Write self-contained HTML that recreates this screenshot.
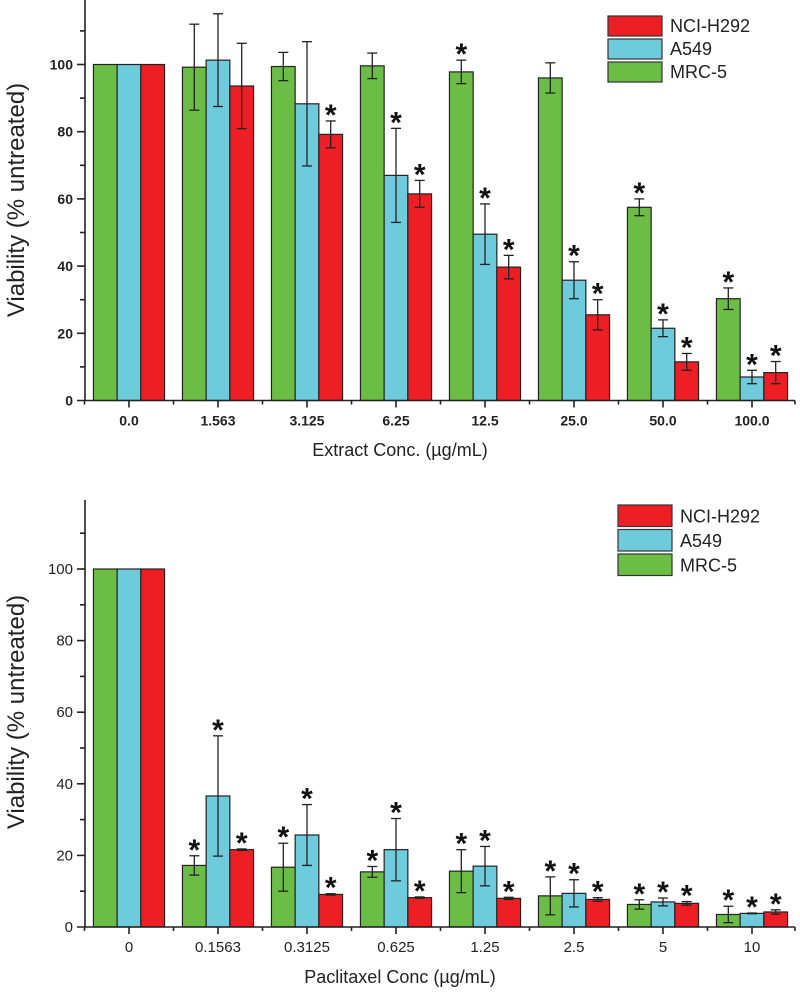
<!DOCTYPE html>
<html><head><meta charset="utf-8"><style>
html,body{margin:0;padding:0;background:#fff;}
svg{display:block;font-family:"Liberation Sans",Arial,sans-serif;}
</style></head><body>
<svg id="chart" width="800" height="992" viewBox="0 0 800 992" xmlns="http://www.w3.org/2000/svg"></svg>
<script>
const seriesNames = ["MRC-5","A549","NCI-H292"];
const seriesColors = ["#6cbd45","#6ecbdc","#ed1f24"];
// Top chart
const topCategories = ["0.0","1.563","3.125","6.25","12.5","25.0","50.0","100.0"];
const topMRC5 = [100,99.2,99.4,99.6,97.8,96,57.5,30.3];
const topA549 = [100,101.3,88.3,67,49.5,35.8,21.5,7];
const topH292 = [100,93.6,79.2,61.5,39.7,25.5,11.5,8.3];
const topErrMRC5 = [0,12.8,4.2,3.8,3.5,4.5,2.5,3.2];
const topErrA549 = [0,13.8,18.5,14,9,5.5,2.5,2];
const topErrH292 = [0,12.7,4,4,3.5,4.5,2.5,3.3];
const topStarMRC5 = [0,0,0,0,1,0,1,1];
const topStarA549 = [0,0,0,1,1,1,1,1];
const topStarH292 = [0,0,1,1,1,1,1,1];
const topTicks = [0,20,40,60,80,100];
// Bottom chart
const botCategories = ["0","0.1563","0.3125","0.625","1.25","2.5","5","10"];
const botMRC5 = [100,17.2,16.7,15.4,15.6,8.7,6.3,3.5];
const botA549 = [100,36.6,25.7,21.6,17,9.4,7,3.8];
const botH292 = [100,21.6,9.1,8.2,8,7.7,6.6,4.2];
const botErrMRC5 = [0,2.7,6.7,1.5,6,5.3,1.3,2.3];
const botErrA549 = [0,16.8,8.5,8.7,5.5,3.8,1.1,0.1];
const botErrH292 = [0,0.2,0.2,0.2,0.3,0.5,0.5,0.6];
const botStarMRC5 = [0,1,1,1,1,1,1,1];
const botStarA549 = [0,1,1,1,1,1,1,1];
const botStarH292 = [0,1,1,1,1,1,1,1];
const botTicks = [0,20,40,60,80,100];

const svg = document.getElementById('chart');
const NS = "http://www.w3.org/2000/svg";
function mk(tag, attrs, parent){
  const e = document.createElementNS(NS, tag);
  for (const k in attrs) e.setAttribute(k, attrs[k]);
  (parent||svg).appendChild(e);
  return e;
}

function drawChart(cfg){
  const g = mk('g', {});
  
  
  const x0 = 85, xEnd = 795, step = 89, c0 = 129, bw = 23.7;
  const y = v => cfg.y0 - v * cfg.k;
  const cx = i => c0 + i * step;
  const vals = [cfg.m, cfg.a, cfg.h], errs = [cfg.em, cfg.ea, cfg.eh], stars = [cfg.sm, cfg.sa, cfg.sh];
  cfg.cats.forEach((c, i) => {
    for (let s = 0; s < 3; s++) {
      const bx = cx(i) - 1.5 * bw + s * bw;
      const v = vals[s][i];
      const r = mk('rect', {x: bx, y: y(v), width: bw, height: v * cfg.k, fill: seriesColors[s], stroke: '#222', 'stroke-width': 1.2}, g);
      
      
      const e = errs[s][i];
      const mx = bx + bw / 2;
      if (e > 0) {
        const eg = mk('g', {stroke: '#222', 'stroke-width': 1.3}, g);
        
        
        mk('line', {x1: mx, x2: mx, y1: y(v + e), y2: y(v - e)}, eg);
        mk('line', {x1: mx - 5, x2: mx + 5, y1: y(v + e), y2: y(v + e)}, eg);
        mk('line', {x1: mx - 5, x2: mx + 5, y1: y(v - e), y2: y(v - e)}, eg);
      }
      if (stars[s][i]) {
        const st = mk('text', {x: mx, y: y(v + e) + 4, 'font-size': 30, 'font-weight': 'bold', 'text-anchor': 'middle', fill: '#111'}, g);
        st.textContent = '*';
        
        
      }
    }
  });
  const ax = mk('g', {stroke: '#222', 'stroke-width': 1.6}, g);
  
  
  mk('line', {x1: x0, x2: x0, y1: cfg.yTop, y2: y(0)}, ax);
  mk('line', {x1: x0 - 8, x2: xEnd, y1: y(0), y2: y(0)}, ax);
  for (let v = 10; v <= 110; v += 10) {
    const major = v % 20 === 0;
    mk('line', {x1: x0 - (major ? 8 : 5), x2: x0, y1: y(v), y2: y(v)}, ax);
  }
  cfg.cats.forEach((c, i) => {
    mk('line', {x1: cx(i), x2: cx(i), y1: y(0), y2: y(0) + 7}, ax);
    mk('line', {x1: cx(i) - step / 2, x2: cx(i) - step / 2, y1: y(0), y2: y(0) + 4}, ax);
    const t = mk('text', {x: cx(i), y: y(0) + 25, 'font-size': cfg.fs, 'font-weight': cfg.fw, 'text-anchor': 'middle', fill: '#222'}, g);
    t.textContent = c;
    
    
  });
  mk('line', {x1: xEnd, x2: xEnd, y1: y(0), y2: y(0) + 4}, ax);
  cfg.ticks.forEach(v => {
    const t = mk('text', {x: x0 - 12, y: y(v) + 5, 'font-size': cfg.fs, 'font-weight': cfg.fw, 'text-anchor': 'end', fill: '#222'}, g);
    t.textContent = v;
    
    
  });
  const yt = mk('text', {x: 0, y: 0, 'font-size': 24, 'text-anchor': 'middle', fill: '#222', transform: `translate(24,${cfg.yTitleY}) rotate(-90)`}, g);
  yt.textContent = 'Viability (% untreated)';
  
  
  const xt = mk('text', {x: cfg.xTitleX, y: cfg.xTitleY, 'font-size': 18, 'text-anchor': 'middle', fill: '#222'}, g);
  xt.textContent = cfg.xTitle;
  
  
  const order = [2, 1, 0];
  order.forEach((s, j) => {
    const ly = cfg.legY + j * cfg.legStep;
    const r = mk('rect', {x: cfg.legX, y: ly, width: 54, height: cfg.legStep - 3, fill: seriesColors[s], stroke: '#333', 'stroke-width': 1.2}, g);
    
    
    const t = mk('text', {x: cfg.legX + 62, y: ly + cfg.legStep - 7, 'font-size': 18, fill: '#222'}, g);
    t.textContent = seriesNames[s];
    
    
  });
}

drawChart({name: 'extract-chart', cats: topCategories, m: topMRC5, a: topA549, h: topH292,
  em: topErrMRC5, ea: topErrA549, eh: topErrH292, sm: topStarMRC5, sa: topStarA549, sh: topStarH292,
  ticks: topTicks, y0: 400.5, k: 3.36, yTop: 0, fs: 14, fw: 'bold', yTitleY: 200,
  xTitle: 'Extract Conc. (µg/mL)', xTitleX: 400, xTitleY: 456, legX: 608, legY: 16, legStep: 23});
drawChart({name: 'paclitaxel-chart', cats: botCategories, m: botMRC5, a: botA549, h: botH292,
  em: botErrMRC5, ea: botErrA549, eh: botErrH292, sm: botStarMRC5, sa: botStarA549, sh: botStarH292,
  ticks: botTicks, y0: 927, k: 3.58, yTop: 500, fs: 15, fw: 'normal', yTitleY: 712,
  xTitle: 'Paclitaxel Conc (µg/mL)', xTitleX: 400, xTitleY: 983, legX: 618, legY: 505, legStep: 24.5});
</script>
</body></html>
